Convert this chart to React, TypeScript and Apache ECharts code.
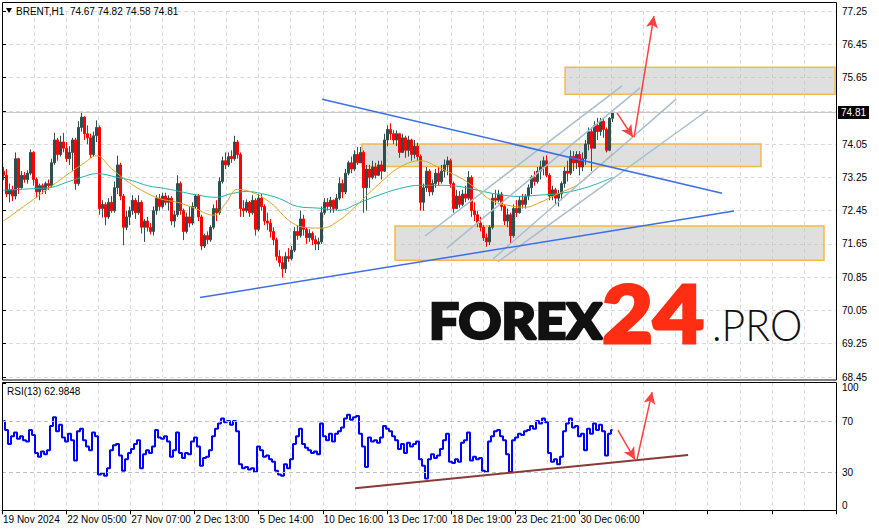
import { useEffect, useRef } from 'react';
import * as echarts from 'echarts';

const FONT = '"Liberation Sans", Arial, sans-serif';
const symbolName = 'BRENT,H1';
const ohlcHeader = ['74.67', '74.82', '74.58', '74.81'];
const timeLabels = ['19 Nov 2024', '22 Nov 05:00', '27 Nov 07:00', '2 Dec 13:00', '5 Dec 14:00', '10 Dec 16:00', '13 Dec 17:00', '18 Dec 19:00', '23 Dec 21:00', '30 Dec 06:00'];
const priceMin = 68.45;
const priceMax = 77.25;
const priceStep = 0.8;
const rsiLabels = [0, 30, 70, 100];
const rsiLevels = [30, 70];
const rsiTitle = 'RSI(13) 62.9848';
const lastPrice = 74.81;
const slotCount = 278;

// [open, close, low, high]
const candles = [
  [73.40,73.30,73.18,73.50],[73.30,72.85,72.78,73.45],[72.85,72.95,72.65,73.10],[72.95,72.80,72.68,73.05],[72.80,73.70,72.72,73.85],
  [73.70,73.00,72.85,73.72],[73.00,73.30,72.98,73.40],[73.30,73.20,73.12,73.38],[73.20,73.35,73.10,73.42],[73.35,73.85,73.30,73.92],
  [73.85,73.20,73.05,73.88],[73.20,72.90,72.75,73.25],[72.90,73.05,72.70,73.10],[73.05,72.95,72.85,73.10],[72.95,73.10,72.85,73.15],
  [73.10,73.05,72.95,73.20],[73.05,73.60,73.00,73.70],[73.60,74.15,73.55,74.32],[74.15,73.80,73.65,74.20],[73.80,74.10,73.75,74.25],
  [74.10,73.95,73.85,74.32],[73.95,73.70,73.62,74.10],[73.70,73.85,73.55,74.00],[73.85,74.15,73.40,74.20],[74.15,73.10,72.95,74.20],
  [73.10,74.45,73.05,74.60],[74.45,74.70,74.35,74.80],[74.70,74.30,74.15,74.72],[74.30,74.20,74.05,74.50],[74.20,73.80,73.72,74.30],
  [73.80,74.25,73.75,74.35],[74.25,74.45,74.10,74.62],[74.45,72.50,72.35,74.50],[72.50,72.60,72.28,72.70],[72.60,72.30,72.10,72.65],
  [72.30,72.65,72.25,72.75],[72.65,72.45,72.40,72.80],[72.45,73.00,72.40,73.15],[73.00,73.55,72.85,73.77],[73.55,72.80,72.70,73.60],
  [72.80,72.05,71.62,72.85],[72.05,72.30,71.98,72.45],[72.30,72.45,72.10,72.55],[72.45,72.70,72.35,72.82],[72.70,72.40,72.25,72.75],
  [72.40,72.65,72.35,72.82],[72.65,72.05,71.90,72.70],[72.05,72.20,71.70,72.25],[72.20,72.05,71.95,72.30],[72.05,71.95,71.88,72.15],
  [71.95,72.45,71.85,72.55],[72.45,72.75,72.35,72.82],[72.75,72.55,72.45,72.85],[72.55,72.80,72.50,72.88],[72.80,72.65,72.58,72.88],
  [72.65,72.75,72.45,72.82],[72.75,72.20,72.10,72.80],[72.20,72.35,72.05,72.45],[72.35,73.10,72.30,73.30],[73.10,72.45,72.35,73.15],
  [72.45,71.95,71.74,72.50],[71.95,72.30,71.90,72.40],[72.30,72.15,72.05,72.55],[72.15,72.55,72.10,72.65],[72.55,72.80,72.50,72.85],
  [72.80,72.30,72.20,72.85],[72.30,71.60,71.50,72.35],[71.60,71.85,71.55,71.90],[71.85,71.75,71.65,71.95],[71.75,72.05,71.70,72.10],
  [72.05,72.50,72.00,72.60],[72.50,72.40,72.20,72.70],[72.40,73.15,72.35,73.25],[73.15,73.65,73.10,73.75],[73.65,73.55,73.45,73.85],
  [73.55,73.75,73.50,73.85],[73.75,73.70,73.60,73.90],[73.70,74.10,73.65,74.25],[74.10,73.80,73.70,74.15],[73.80,72.50,72.30,73.85],
  [72.50,72.45,72.30,72.70],[72.45,72.65,72.40,72.72],[72.65,72.40,72.30,72.68],[72.40,72.70,72.35,72.82],[72.70,72.00,71.85,72.75],
  [72.00,72.75,71.95,72.85],[72.75,72.55,72.45,72.85],[72.55,72.20,72.10,72.60],[72.20,72.15,71.98,72.40],[72.15,71.95,71.80,72.25],
  [71.95,71.75,71.62,72.05],[71.75,71.35,71.25,71.80],[71.35,71.20,71.10,71.50],[71.20,71.05,70.84,71.35],[71.05,71.35,70.95,71.45],
  [71.35,71.30,71.22,71.55],[71.30,71.50,71.25,71.60],[71.50,71.95,71.45,72.05],[71.95,71.85,71.75,72.10],[71.85,72.25,71.80,72.45],
  [72.25,72.00,71.85,72.35],[72.00,71.80,71.65,72.05],[71.80,71.90,71.70,72.00],[71.90,71.75,71.62,71.95],[71.75,71.65,71.50,71.85],
  [71.65,71.70,71.50,71.80],[71.70,72.40,71.65,72.55],[72.40,72.65,72.35,72.75],[72.65,72.55,72.45,72.75],[72.55,72.70,72.40,72.78],
  [72.70,72.50,72.40,72.72],[72.50,72.75,72.45,72.85],[72.75,73.10,72.70,73.25],[73.10,72.90,72.75,73.20],[72.90,73.35,72.85,73.45],
  [73.35,73.60,73.30,73.65],[73.60,73.45,73.35,73.75],[73.45,73.80,73.40,73.90],[73.80,73.60,73.55,73.98],[73.60,73.85,73.60,73.98],
  [73.85,73.00,72.40,73.90],[73.00,73.45,72.45,73.55],[73.45,73.25,73.00,73.55],[73.25,73.50,73.20,73.65],[73.50,73.30,73.22,73.60],
  [73.30,73.55,73.28,73.65],[73.55,73.40,73.20,73.65],[73.40,74.15,73.38,74.30],[74.15,74.40,74.00,74.50],[74.40,74.30,74.15,74.55],
  [74.30,74.15,74.05,74.38],[74.15,74.30,74.00,74.38],[74.30,73.85,73.72,74.32],[73.85,74.20,73.85,74.30],[74.20,73.90,73.72,74.25],
  [73.90,74.15,73.75,74.25],[74.15,73.80,73.65,74.18],[73.80,74.00,73.70,74.15],[74.00,73.75,73.65,74.08],[73.75,72.65,72.45,73.80],
  [72.65,73.00,72.45,73.10],[73.00,73.40,72.90,73.50],[73.40,72.90,72.80,73.45],[72.90,73.10,72.82,73.20],[73.10,73.35,73.00,73.45],
  [73.35,73.15,73.05,73.50],[73.15,73.40,73.10,73.55],[73.40,73.55,73.25,73.68],[73.55,73.65,73.30,73.75],[73.65,73.10,73.00,73.70],
  [73.10,72.50,72.40,73.15],[72.50,72.80,72.50,72.95],[72.80,72.60,72.52,72.92],[72.60,72.85,72.55,72.95],[72.85,72.75,72.65,73.05],
  [72.75,73.25,72.70,73.40],[73.25,72.45,72.30,73.30],[72.45,72.35,72.20,72.65],[72.35,72.15,72.05,72.45],[72.15,72.05,71.95,72.30],
  [72.05,71.80,71.72,72.10],[71.80,71.70,71.58,71.90],[71.70,72.05,71.62,72.10],[72.05,72.75,72.00,72.85],[72.75,72.70,72.58,72.95],
  [72.70,72.85,72.65,72.95],[72.85,72.55,72.45,72.90],[72.55,72.20,72.10,72.60],[72.20,72.35,72.05,72.50],[72.35,71.85,71.65,72.40],
  [71.85,72.50,71.80,72.60],[72.50,72.40,72.30,72.70],[72.40,72.70,72.38,72.80],[72.70,72.60,72.50,72.85],[72.60,72.80,72.50,72.85],
  [72.80,73.00,72.70,73.08],[73.00,73.25,72.85,73.30],[73.25,73.15,73.05,73.40],[73.15,73.40,73.10,73.50],[73.40,73.50,73.20,73.65],
  [73.50,73.65,73.30,73.75],[73.65,73.30,73.25,73.78],[73.30,72.80,72.70,73.35],[72.80,72.95,72.70,73.05],[72.95,72.75,72.60,73.00],
  [72.75,72.85,72.55,72.95],[72.85,73.10,72.70,73.15],[73.10,73.40,73.00,73.50],[73.40,73.35,73.15,73.65],[73.35,73.75,73.30,73.90],
  [73.75,73.60,73.40,73.88],[73.60,73.80,73.45,73.88],[73.80,73.50,73.30,73.88],[73.50,73.70,73.40,73.85],[73.70,74.05,73.55,74.15],
  [74.05,74.35,73.90,74.45],[74.35,73.95,73.40,74.45],[73.95,74.50,73.95,74.60],[74.50,74.35,74.15,74.68],[74.35,74.60,74.25,74.68],
  [74.60,74.40,74.20,74.65],[74.40,73.90,73.85,74.45],[73.90,74.67,73.88,74.70],[74.67,74.81,74.58,74.82],
];

const rsiValues = [
  70,63,52,58,61,56,58,55,54,63, 59,45,42,46,44,47,66,73,62,67,
  57,54,60,55,39,62,64,55,50,47, 61,58,28,29,27,33,47,51,52,43,
  31,40,45,48,52,55,33,44,47,45, 50,63,57,56,58,54,42,47,61,45,
  41,45,44,54,57,50,35,41,42,47, 58,64,68,72,69,70,67,70,62,36,
  33,34,32,33,30,50,47,42,43,40, 38,31,28,27,36,33,40,52,58,64,
  52,49,47,45,46,44,68,58,55,60, 54,60,62,65,72,75,71,73,74,60,
  50,34,57,54,55,53,57,66,64,62, 58,55,48,52,45,53,50,52,54,40,
  35,25,40,44,41,43,48,55,60,38, 37,40,38,53,55,61,39,42,40,41,
  31,30,54,58,62,63,58,55,44,30, 55,57,60,59,62,63,66,64,70,68,
  72,69,45,38,40,36,42,62,68,72, 65,66,58,60,47,64,60,68,63,67,
  62,43,60,62.98,
];

// moving averages read at sampled candle slots: [slot, price]
const maFast = [
  [0,72.20],[10,72.72],[20,73.25],[27,73.60],[31,73.77],[36,73.46],[41,73.17],[46,72.94],[52,72.74],[58,72.65],
  [63,72.53],[70,72.34],[74,72.62],[78,72.96],[84,72.86],[90,72.58],[95,72.22],[100,72.05],[106,72.03],[112,72.22],
  [118,72.60],[125,73.08],[132,73.49],[139,73.65],[145,73.49],[152,73.25],[157,73.01],[163,72.68],[168,72.58],[174,72.53],
  [178,72.62],[185,72.86],[192,73.10],[198,73.49],[203,73.82],
];
const maSlow = [
  [0,72.94],[10,72.98],[16,73.01],[21,73.13],[26,73.25],[31,73.34],[38,73.25],[43,73.17],[48,73.05],[54,72.98],
  [60,72.89],[65,72.82],[71,72.77],[76,72.86],[81,72.91],[86,72.86],[92,72.74],[98,72.55],[105,72.51],[112,72.46],
  [118,72.62],[125,72.82],[132,72.98],[139,73.06],[145,73.06],[152,73.03],[158,72.94],[165,72.84],[172,72.79],[178,72.82],
  [185,72.86],[192,72.96],[198,73.10],[203,73.25],
];

// annotations in (candle slot, price) / (candle slot, RSI)
const zones = [
  [120, 253, 74.05, 73.51],
  [187.7, 277.7, 75.90, 75.25],
  [131, 274, 72.08, 71.26],
];
const blueLines = [
  [106.7, 75.13, 240, 72.87],
  [66, 70.36, 244, 72.44],
];
const channelLines = [
  [141, 71.84, 206.7, 75.45],
  [148.3, 71.55, 212.7, 75.40],
  [163.7, 71.29, 224.7, 75.13],
  [165.3, 71.22, 235.3, 74.87],
];
const priceArrows = [
  [205, 74.80, 210.3, 74.22],
  [210.7, 74.22, 217.3, 77.13],
];
const rsiTrend = [117.7, 17.2, 228.7, 43.3];
const rsiArrows = [
  [205.3, 62.9, 211, 39.8],
  [211.7, 40.2, 216.7, 92.7],
];

const seg = (s: number[], lineStyle?: any) => [
  { coord: [s[0], s[1]], lineStyle },
  { coord: [s[2], s[3]] },
];

export default function App() {
  const ref = useRef<HTMLDivElement>(null);
  useEffect(() => {
    if (!ref.current) return;
    const chart = echarts.init(ref.current, undefined, { renderer: 'svg' });
    const dashed = { color: '#dadada', type: [4, 3] as any, width: 1 };
    const labelCats: string[] = [];
    timeLabels.forEach((l) => labelCats.push(l, ''));
    while (labelCats.length < 27) labelCats.push('');
    const slotCats = Array.from({ length: slotCount }, (_, i) => String(i));
    const hiddenCat = (gridIndex: number) => ({ type: 'category', gridIndex, data: slotCats, show: false, boundaryGap: true });
    const hiddenVal = (gridIndex: number) => ({ type: 'value', gridIndex, min: 0, max: slotCount, show: false });
    const wmFont = 'Lato, "Open Sans", sans-serif';

    const option: any = {
      animation: false,
      backgroundColor: '#ffffff',
      textStyle: { fontFamily: FONT },
      grid: [
        { left: 2, width: 834, top: 11, height: 366 },
        { left: 2, width: 834, top: 382.75, height: 127.5 },
      ],
      xAxis: [
        { type: 'category', gridIndex: 0, data: labelCats, boundaryGap: false, axisLine: { show: false }, axisTick: { show: false }, axisLabel: { show: false }, splitLine: { show: true, interval: 0, lineStyle: dashed } },
        hiddenCat(0),
        hiddenVal(0),
        {
          type: 'category', gridIndex: 1, data: labelCats, boundaryGap: false,
          axisLine: { show: true, lineStyle: { color: '#000', width: 1 } },
          axisTick: { show: true, interval: 1, length: 4, lineStyle: { color: '#000' } },
          axisLabel: { show: true, interval: 1, align: 'left', color: '#000', fontSize: 10, fontFamily: FONT, margin: 4, padding: [0, 0, 0, 1] },
          splitLine: { show: true, interval: 0, lineStyle: dashed },
        },
        hiddenCat(1),
        hiddenVal(1),
      ],
      yAxis: [
        {
          type: 'value', gridIndex: 0, position: 'right', min: priceMin, max: priceMax, interval: priceStep,
          axisLine: { show: false },
          axisTick: { show: true, length: 4, lineStyle: { color: '#000' } },
          axisLabel: { color: '#000', fontSize: 10, fontFamily: FONT, margin: 6, formatter: (v: number) => v.toFixed(2) },
          splitLine: { show: true, lineStyle: dashed },
        },
        {
          type: 'value', gridIndex: 1, position: 'right', min: 0, max: 100,
          axisLine: { show: false },
          axisTick: { show: true, length: 4, customValues: rsiLabels, lineStyle: { color: '#000' } },
          axisLabel: { color: '#000', fontSize: 10, fontFamily: FONT, margin: 6, customValues: rsiLabels, verticalAlignMaxLabel: 'top', verticalAlignMinLabel: 'bottom' },
          splitLine: { show: false },
        },
      ],
      series: [
        {
          type: 'candlestick', xAxisIndex: 1, yAxisIndex: 0, barWidth: 2, z: 3,
          data: candles.map((c) => [c[0], c[1], c[2], c[3]]),
          itemStyle: { color: '#2f4f4f', color0: '#ff0000', borderColor: '#2f4f4f', borderColor0: '#ff0000', borderWidth: 1 },
          markLine: {
            silent: true, symbol: ['none', 'none'],
            lineStyle: { color: '#c8c8c8', type: 'solid', width: 1 },
            label: { show: true, position: 'end', formatter: lastPrice.toFixed(2), backgroundColor: '#000', color: '#fff', fontSize: 10, fontFamily: FONT, padding: [2, 3, 1, 3], distance: 2 },
            data: [{ yAxis: lastPrice }],
          },
        },
        { type: 'line', xAxisIndex: 1, yAxisIndex: 0, data: maSlow, showSymbol: false, smooth: 0.4, lineStyle: { color: '#20b2aa', width: 1 }, z: 4 },
        { type: 'line', xAxisIndex: 1, yAxisIndex: 0, data: maFast, showSymbol: false, smooth: 0.4, lineStyle: { color: '#daa520', width: 1 }, z: 4 },
        {
          type: 'line', xAxisIndex: 2, yAxisIndex: 0, data: [[0, 0]], showSymbol: false, lineStyle: { width: 0 }, z: 6, silent: true,
          markArea: {
            silent: true,
            itemStyle: { color: 'rgba(192,192,192,0.5)', borderColor: '#f5b94a', borderWidth: 1.5 },
            label: { show: false },
            data: zones.map((z) => [{ coord: [z[0], z[2]] }, { coord: [z[1], z[3]] }]),
          },
          markLine: {
            silent: true, symbol: ['none', 'none'], label: { show: false },
            lineStyle: { type: 'solid' },
            data: [
              ...channelLines.map((s) => seg(s, { color: '#a9bdcc', width: 1.5, type: 'solid' })),
              ...blueLines.map((s) => seg(s, { color: '#3d6ee8', width: 1.5, type: 'solid' })),
            ],
          },
        },
        {
          type: 'line', xAxisIndex: 2, yAxisIndex: 0, data: [[0, 0]], showSymbol: false, lineStyle: { width: 0 }, z: 7, silent: true,
          markLine: {
            silent: true, symbol: ['none', 'arrow'], symbolSize: [9, 12], label: { show: false },
            lineStyle: { color: '#ff4040', width: 1.5, type: 'solid' },
            data: priceArrows.map((s) => seg(s)),
          },
        },
        {
          type: 'line', xAxisIndex: 4, yAxisIndex: 1, data: rsiValues, showSymbol: false, step: 'middle', lineStyle: { color: '#0000ff', width: 2 }, z: 4,
          markLine: {
            silent: true, symbol: ['none', 'none'], label: { show: false },
            lineStyle: { color: '#c0c0c0', type: [4, 3], width: 1 },
            data: rsiLevels.map((v) => ({ yAxis: v })),
          },
        },
        {
          type: 'line', xAxisIndex: 5, yAxisIndex: 1, data: [[0, -10]], showSymbol: false, lineStyle: { width: 0 }, z: 6, silent: true,
          markLine: {
            silent: true, symbol: ['none', 'none'], label: { show: false },
            data: [seg(rsiTrend, { color: '#8b3a3a', width: 2, type: 'solid' })],
          },
        },
        {
          type: 'line', xAxisIndex: 5, yAxisIndex: 1, data: [[0, -10]], showSymbol: false, lineStyle: { width: 0 }, z: 7, silent: true,
          markLine: {
            silent: true, symbol: ['none', 'arrow'], symbolSize: [9, 12], label: { show: false },
            lineStyle: { color: '#ff4040', width: 1.5, type: 'solid' },
            data: rsiArrows.map((s) => seg(s)),
          },
        },
      ],
      graphic: [
        { type: 'rect', shape: { x: 2.5, y: 2.5, width: 834, height: 377.5 }, style: { fill: 'none', stroke: '#000', lineWidth: 1 }, z: 100, silent: true },
        { type: 'rect', shape: { x: 2.5, y: 382.5, width: 834, height: 128 }, style: { fill: 'none', stroke: '#000', lineWidth: 1 }, z: 100, silent: true },
        { type: 'polygon', shape: { points: [[6, 8], [12, 8], [9, 13]] }, style: { fill: '#000' }, z: 100, silent: true },
        { type: 'text', x: 16, y: 11, style: { text: symbolName + '  ' + ohlcHeader.join(' '), fill: '#000', fontSize: 10, fontFamily: FONT, verticalAlign: 'middle' }, z: 100, silent: true },
        { type: 'text', x: 7, y: 391, style: { text: rsiTitle, fill: '#000', fontSize: 10, fontFamily: FONT, verticalAlign: 'middle' }, z: 100, silent: true },
        { type: 'text', x: 429, y: 320, scaleX: 1.08, style: { text: 'FOREX', fill: '#111', stroke: '#111', lineWidth: 2.6, fontSize: 49, fontWeight: 900, fontFamily: wmFont, verticalAlign: 'middle' }, z: 90, silent: true },
        { type: 'text', x: 602, y: 312.5, scaleX: 1.1, style: { text: '24', fill: '#ff2d12', stroke: '#ff2d12', lineWidth: 3, fontSize: 80, fontWeight: 900, fontFamily: wmFont, verticalAlign: 'middle' }, z: 90, silent: true },
        { type: 'text', x: 712, y: 324, scaleX: 0.93, style: { text: '.PRO', fill: '#111', fontSize: 44, fontWeight: 300, fontFamily: wmFont, verticalAlign: 'middle' }, z: 90, silent: true },
      ],
    };
    chart.setOption(option);
    return () => chart.dispose();
  }, []);
  return <div ref={ref} style={{ position: 'absolute', left: 0, top: 0, width: 879, height: 531 }} />;
}
